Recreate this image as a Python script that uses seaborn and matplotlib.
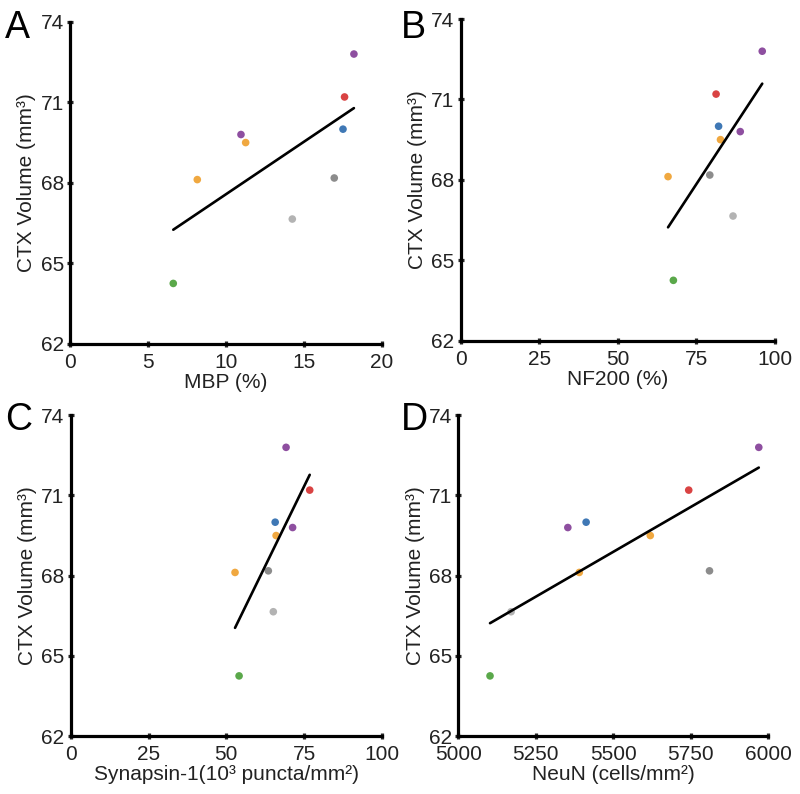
import matplotlib
matplotlib.use("Agg")
import matplotlib.pyplot as plt
import seaborn as sns
import pandas as pd

# one entry per animal, same order in every array
subject = ["s1", "s2", "s3", "s4", "s5", "s6", "s7", "s8", "s9"]
dot_colors = ["#8e4fa0", "#d94343", "#3f78b5", "#8e4fa0", "#f0a840",
              "#f0a840", "#8c8c8c", "#b3b3b3", "#5aa84a"]
volume = [72.8, 71.2, 70.0, 69.8, 69.5, 68.12, 68.18, 66.65, 64.25]

mbp = [18.2, 17.6, 17.5, 10.96, 11.26, 8.16, 16.94, 14.25, 6.62]
nf200 = [96.0, 81.3, 82.1, 89.0, 82.7, 66.0, 79.3, 86.7, 67.7]
synapsin = [69.2, 76.8, 65.7, 71.3, 66.0, 52.8, 63.5, 65.1, 54.1]
neun = [5969, 5743, 5412, 5353, 5619, 5390, 5810, 5170, 5102]

panel_letters = ["A", "B", "C", "D"]
x_labels = ["MBP (%)", "NF200 (%)", "Synapsin-1(10³ puncta/mm²)", "NeuN (cells/mm²)"]
x_ticks = [[0, 5, 10, 15, 20], [0, 25, 50, 75, 100], [0, 25, 50, 75, 100],
           [5000, 5250, 5500, 5750, 6000]]
y_ticks = [62, 65, 68, 71, 74]

sns.set_style("ticks")
plt.rcParams["font.family"] = ["Liberation Sans", "DejaVu Sans"]

fig = plt.figure(figsize=(8, 7.94), dpi=100)
boxes = [[0.0875, 0.567, 0.39, 0.4055],
         [0.576, 0.571, 0.3925, 0.405],
         [0.0884, 0.073, 0.389, 0.404],
         [0.573, 0.073, 0.3875, 0.404]]
letter_pos = [(0.006, 0.988), (0.501, 0.988), (0.006, 0.494), (0.501, 0.494)]

palette = dict(zip(subject, dot_colors))
xs_all = [mbp, nf200, synapsin, neun]

for i in range(4):
    ax = fig.add_axes(boxes[i])
    df = pd.DataFrame({"x": xs_all[i], "vol": volume, "subject": subject})
    sns.scatterplot(data=df, x="x", y="vol", hue="subject", palette=palette,
                    s=30, edgecolor="none", legend=False, ax=ax, zorder=2)
    # least-squares line, drawn over the dots like in the original
    sns.regplot(data=df, x="x", y="vol", scatter=False, ci=None, color="black",
                line_kws={"linewidth": 1.9, "zorder": 3}, ax=ax)
    ax.set_xlim(x_ticks[i][0], x_ticks[i][-1])
    ax.set_ylim(62, 74)
    ax.set_xticks(x_ticks[i])
    ax.set_yticks(y_ticks)
    sns.despine(ax=ax)
    for side in ["left", "bottom"]:
        ax.spines[side].set_linewidth(2.3)
        ax.spines[side].set_color("black")
    ax.tick_params(direction="inout", length=5, width=2.3, labelsize=15,
                   labelcolor="#222222")
    ax.tick_params(axis="x", pad=4)
    ax.tick_params(axis="y", pad=2)
    ax.set_xlabel(x_labels[i], fontsize=15, color="#222222", labelpad=1)
    ax.set_ylabel("CTX Volume (mm³)", fontsize=15, color="#222222", labelpad=3)
    for sp in ax.spines.values():
        sp.set_clip_on(False)
    fig.text(letter_pos[i][0], letter_pos[i][1], panel_letters[i],
             fontsize=27, va="top", ha="left", color="black")

fig.savefig("out.png", dpi=100)
